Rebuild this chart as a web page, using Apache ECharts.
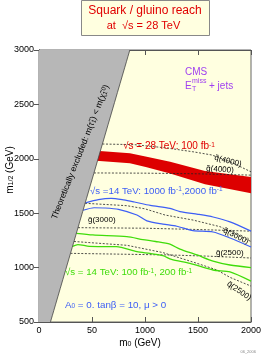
<!DOCTYPE html>
<html><head><meta charset="utf-8">
<script src="https://cdn.jsdelivr.net/npm/echarts@6/dist/echarts.min.js"></script>
<style>html,body{margin:0;padding:0;background:#fff}#c{width:267px;height:357px}</style>
</head><body><div id="c"></div>
<script>
// ---- data ----
const xTicks = [0, 500, 1000, 1500, 2000];
const xTickLabels = ['0', '50', '1000', '1500', '2000'];
const yTicks = [500, 1000, 1500, 2000, 2500, 3000];
const excludedEdge = [[108, 500], [857, 3000]];
const band28Upper = [[540, 2074], [858, 2050], [1016, 2019], [1237, 1973], [1566, 1888], [2000, 1833]];
const band28Lower = [[540, 1982], [858, 1959], [1016, 1922], [1237, 1866], [1566, 1765], [2000, 1683]];
const blue2000 = [[438, 1595], [560, 1625], [680, 1637], [800, 1622], [900, 1603], [1050, 1572], [1235, 1545], [1330, 1515], [1500, 1490], [1642, 1465], [1802, 1420], [2000, 1335]];
const blue1000 = [[416, 1527], [520, 1550], [620, 1548], [750, 1535], [924, 1483], [1018, 1430], [1169, 1400], [1300, 1380], [1453, 1340], [1642, 1327], [1802, 1272], [2000, 1190]];
const green200 = [[352, 1315], [508, 1300], [829, 1284], [980, 1258], [1100, 1240], [1235, 1215], [1330, 1170], [1491, 1116], [1642, 1060], [1802, 1024], [2000, 1000]];
const green100 = [[316, 1195], [367, 1212], [475, 1195], [730, 1192], [924, 1146], [1046, 1130], [1169, 1110], [1250, 1075], [1424, 1039], [1642, 978], [1802, 960], [2000, 875]];
const squark4000 = [[598, 2136], [900, 2130], [1200, 2100], [1450, 2065], [1630, 2035], [1800, 1975], [2000, 1880]];
const gluino4000 = [[518, 1870], [1000, 1868], [1500, 1862], [2000, 1850]];
const squark3000 = [[435, 1591], [829, 1569], [1000, 1540], [1190, 1483], [1453, 1437], [1708, 1376], [1850, 1310], [2000, 1240]];
const gluino3000 = [[368, 1367], [1000, 1362], [1500, 1350], [2000, 1335]];
const squark2500 = [[330, 1240], [829, 1205], [1169, 1138], [1491, 1039], [1679, 978], [1802, 910], [2000, 830]];
const gluino2500 = [[297, 1131], [1235, 1116], [1600, 1105], [2000, 1088]];

const FF = 'Liberation Sans, Arial, Helvetica, sans-serif';
const RED = '#e00000', BLUE = '#3d5ef5', GREEN = '#3fdc0a', PURPLE = '#a040f0';

const chart = echarts.init(document.getElementById('c'), null, {renderer: 'canvas'});

function polySeries(name, getPts, color, z) {
  return {
    type: 'custom', name, z, clip: true, silent: true,
    data: [[0, 500]],
    renderItem(params, api) {
      return {type: 'polygon', shape: {points: getPts().map(p => api.coord(p))}, style: {fill: color}};
    }
  };
}
function lineSeries(data, color, width, dashed, z) {
  return {
    type: 'line', data, showSymbol: false, symbol: 'none', silent: true, z: z || 3,
    smooth: dashed ? 0 : 0.25,
    lineStyle: {color, width, type: dashed ? [2, 1.6] : 'solid'}
  };
}

const gridL = 39, gridT = 50, gridW = 212, gridH = 272;

function txt(x, y, text, opts) {
  return Object.assign({type: 'text', x, y, z: 100, style: Object.assign({
    text, font: '9px ' + FF, fill: '#000', align: 'left', verticalAlign: 'middle'
  }, opts && opts.style || {})}, opts && opts.el || {});
}
const supRich = (col, base, small) => ({
  b: {fontSize: base, fontFamily: FF, fill: col},
  s: {fontSize: small, fontFamily: FF, fill: col, verticalAlign: 'top'},
  d: {fontSize: small, fontFamily: FF, fill: col, verticalAlign: 'bottom'}
});

chart.setOption({
  animation: false,
  grid: {left: gridL, top: gridT, width: gridW, height: gridH, show: true, backgroundColor: '#ffffe0', borderColor: '#666', borderWidth: 1},
  xAxis: [
    {type: 'value', min: 0, max: 2000, interval: 500, position: 'bottom',
     axisLine: {lineStyle: {color: '#555', width: 1}},
     axisTick: {inside: true, length: 5, lineStyle: {color: '#555'}},
     splitLine: {show: false},
     axisLabel: {margin: 4, fontSize: 9, fontFamily: FF, color: '#000',
       formatter: v => { const i = xTicks.indexOf(v); return i >= 0 ? xTickLabels[i] : ''; }}},
    {type: 'value', min: 0, max: 2000, interval: 500, position: 'top',
     axisLine: {lineStyle: {color: '#555'}},
     axisTick: {inside: true, length: 5, lineStyle: {color: '#555'}},
     axisLabel: {show: false}, splitLine: {show: false}}
  ],
  yAxis: [
    {type: 'value', min: 500, max: 3000, interval: 500, position: 'left',
     axisLine: {show: true, lineStyle: {color: '#555'}},
     axisTick: {show: true, inside: false, length: 4, lineStyle: {color: '#555'}},
     splitLine: {show: false},
     axisLabel: {margin: 5, fontSize: 9, fontFamily: FF, color: '#000',
       formatter: v => yTicks.indexOf(v) >= 0 ? String(v) : ''}},
    {type: 'value', min: 500, max: 3000, interval: 500, position: 'right',
     axisLine: {show: true, lineStyle: {color: '#555'}},
     axisTick: {show: true, inside: true, length: 5, lineStyle: {color: '#555'}},
     axisLabel: {show: false}, splitLine: {show: false}}
  ],
  series: [
    polySeries('band28', () => band28Upper.concat(band28Lower.slice().reverse()), '#dd0000', 2),
    lineSeries(squark4000, '#222', 0.8, true, 3),
    lineSeries(gluino4000, '#222', 0.8, true, 3),
    lineSeries(squark3000, '#222', 0.8, true, 3),
    lineSeries(gluino3000, '#222', 0.8, true, 3),
    lineSeries(squark2500, '#222', 0.8, true, 3),
    lineSeries(gluino2500, '#222', 0.8, true, 3),
    lineSeries(blue2000, BLUE, 1.2, false, 4),
    lineSeries(blue1000, BLUE, 1.2, false, 4),
    lineSeries(green200, GREEN, 1.3, false, 4),
    lineSeries(green100, GREEN, 1.3, false, 4),
    polySeries('excluded', () => [[0, 500]].concat(excludedEdge, [[0, 3000]]), '#b7b7b7', 6),
    lineSeries(excludedEdge, '#444', 0.8, false, 7)
  ],
  graphic: [
    {type: 'rect', z: 100, shape: {x: 81.5, y: 0.5, width: 128, height: 35}, style: {fill: '#ffffe0', stroke: '#888', lineWidth: 1}},
    txt(145, 10.5, 'Squark / gluino reach', {style: {font: '12px ' + FF, fill: RED, align: 'center'}}),
    txt(143.5, 26, 'at  √s = 28 TeV', {style: {font: '11px ' + FF, fill: RED, align: 'center'}}),
    // axis titles
    txt(140, 343, '{b|m}{d|0}{b| (GeV)}', {style: {align: 'center', rich: supRich('#000', 10, 7)}}),
    txt(10, 170, '{b|m}{d|1/2}{b| (GeV)}', {style: {align: 'center', rich: supRich('#000', 10, 7)}, el: {rotation: Math.PI / 2}}),
    // CMS block
    txt(185, 72, 'CMS', {style: {font: '10px ' + FF, fill: PURPLE}}),
    txt(185, 86, 'E', {style: {font: '10px ' + FF, fill: PURPLE}}),
    txt(192, 81, 'miss', {style: {font: '7px ' + FF, fill: PURPLE}}),
    txt(192, 89.5, 'T', {style: {font: '7px ' + FF, fill: PURPLE}}),
    txt(209, 86, '+ jets', {style: {font: '10px ' + FF, fill: PURPLE}}),
    // luminosity labels
    txt(123, 146.5, '{b|√s = 28 TeV: 100 fb}{s|-1}', {style: {rich: supRich(RED, 10, 6.5)}}),
    txt(90, 191, '{b|√s =14 TeV: 1000 fb}{s|-1}{b|,2000 fb}{s|-1}', {style: {rich: supRich(BLUE, 9.7, 6.5)}}),
    txt(65, 272.5, '{b|√s = 14 TeV: 100 fb}{s|-1}{b|, 200 fb}{s|-1}', {style: {rich: supRich(GREEN, 9.7, 6.5)}}),
    txt(65, 305, '{b|A}{d|0}{b| = 0. tanβ = 10, μ > 0}', {style: {rich: supRich(BLUE, 9.8, 6.5)}}),
    // sparticle mass labels
    txt(228, 161, 'q̃(4000)', {style: {font: '8px ' + FF, align: 'center'}, el: {rotation: -0.26}}),
    txt(220, 169.5, 'g̃(4000)', {style: {font: '8px ' + FF, align: 'center'}, el: {rotation: -0.07}}),
    txt(88, 220, 'g̃(3000)', {style: {font: '8px ' + FF}}),
    txt(236, 236, 'q̃(3000)', {style: {font: '8px ' + FF, align: 'center'}, el: {rotation: -0.45}}),
    txt(216, 252.5, 'g̃(2500)', {style: {font: '8px ' + FF}}),
    txt(239, 291, 'q̃(2500)', {style: {font: '8px ' + FF, align: 'center'}, el: {rotation: -0.6}}),
    // excluded region text
    txt(80.5, 152, '{b|Theoretically excluded: m(τ̃}{d|1}{b|) < m(χ̃}{d|1}{s|0}{b|)}', {style: {align: 'center', rich: supRich('#000', 8.6, 6)}, el: {rotation: 1.196}}),
    txt(256, 352, '06_2006', {style: {font: '4px ' + FF, fill: '#888', align: 'right'}})
  ]
});
</script></body></html>
